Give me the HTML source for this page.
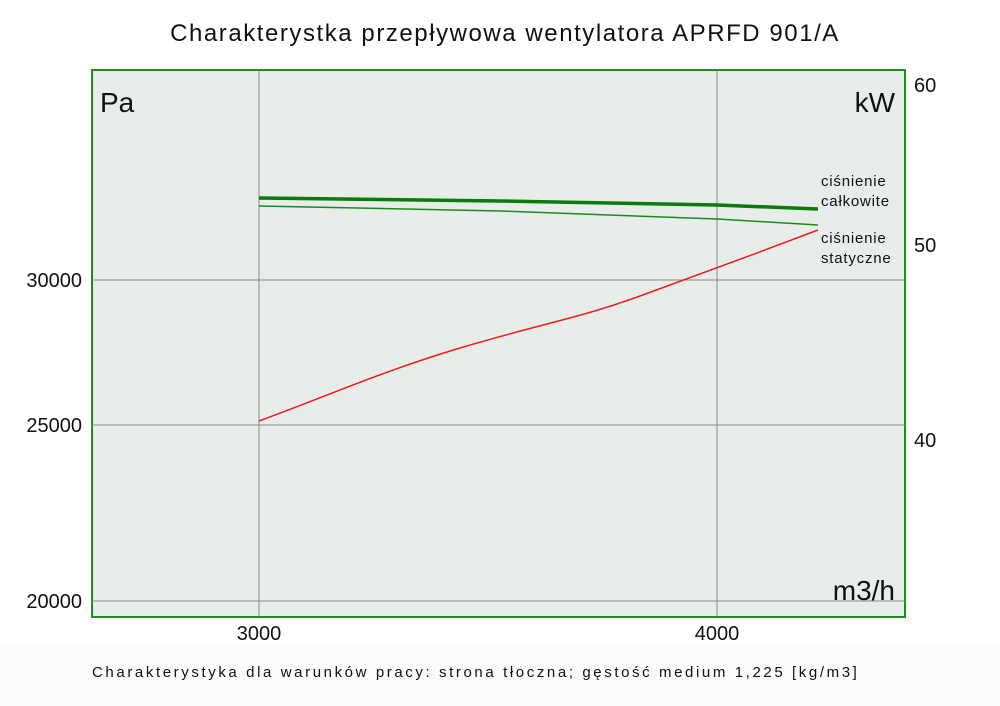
<!DOCTYPE html>
<html><head><meta charset="utf-8"><style>
body{margin:0;background:#fff;}
svg{display:block;font-family:"Liberation Sans",sans-serif;}
</style></head><body>
<svg width="1000" height="706" xmlns="http://www.w3.org/2000/svg">
<rect x="0" y="0" width="1000" height="706" fill="#fff"/>
<rect x="0" y="645" width="1000" height="61" fill="#fcfbf9"/>
<text x="505" y="41" font-size="24" text-anchor="middle" fill="#111" letter-spacing="1.55">Charakterystka przepływowa wentylatora APRFD 901/A</text>
<rect x="92" y="70" width="813" height="547" fill="#e8edea" stroke="#1f8a1f" stroke-width="2"/>
<g stroke="#8a8a8a" stroke-width="1">
<line x1="259" y1="70" x2="259" y2="617"/>
<line x1="717" y1="70" x2="717" y2="617"/>
<line x1="92" y1="280" x2="905" y2="280"/>
<line x1="92" y1="425" x2="905" y2="425"/>
<line x1="92" y1="601" x2="905" y2="601"/>
</g>
<g font-size="20" fill="#111">
<text x="82" y="287" text-anchor="end">30000</text>
<text x="82" y="432" text-anchor="end">25000</text>
<text x="82" y="608" text-anchor="end">20000</text>
<text x="259" y="640" text-anchor="middle">3000</text>
<text x="717" y="640" text-anchor="middle">4000</text>
<text x="914" y="92">60</text>
<text x="914" y="252">50</text>
<text x="914" y="447">40</text>
</g>
<g font-size="28" fill="#111">
<text x="100" y="112">Pa</text>
<text x="895" y="112" text-anchor="end">kW</text>
<text x="895" y="600" text-anchor="end">m3/h</text>
</g>
<g font-size="15" fill="#111" letter-spacing="0.8">
<text x="821" y="186">ciśnienie</text>
<text x="821" y="206">całkowite</text>
<text x="821" y="243">ciśnienie</text>
<text x="821" y="263">statyczne</text>
</g>
<path d="M259,198 L500,201 L717,205 L818,209" fill="none" stroke="#0a7a0a" stroke-width="3.5"/>
<path d="M259,206 L500,211 L717,219 L818,225" fill="none" stroke="#1a8a1a" stroke-width="1.5"/>
<path d="M259,421 C330,395 380,372 460,348 C540,324 580,318 640,296 C690,278 760,252 818,230" fill="none" stroke="#ee1c1c" stroke-width="1.5"/>
<text x="92" y="677" font-size="15" fill="#111" letter-spacing="2.6">Charakterystyka dla warunków pracy: strona tłoczna; gęstość medium 1,225 [kg/m3]</text>
</svg>
</body></html>
